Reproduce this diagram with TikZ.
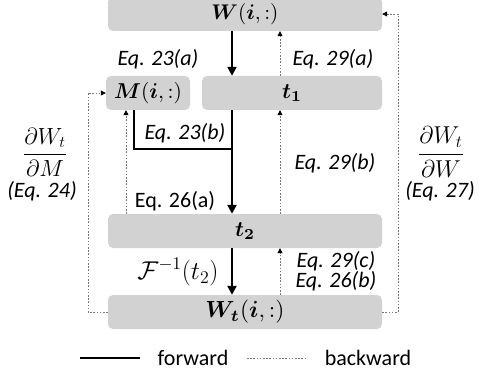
\documentclass[tikz,border=0pt]{standalone}
\usepackage{amsmath}
\usepackage{graphicx}
\usepackage[no-math]{fontspec}
\setmainfont{Carlito}
\usetikzlibrary{arrows.meta}
\definecolor{boxgray}{RGB}{210,210,210}
\definecolor{bgray}{RGB}{120,120,120}
\tikzset{
  box/.style={fill=boxgray, rounded corners=5pt, inner sep=0pt, minimum height=34pt},
  fwd/.style={line width=2.6pt, -{Triangle[length=9pt,width=9pt]}},
  fwdline/.style={line width=2.6pt},
  bwd/.style={bgray, line width=0.8pt, dash pattern=on 1.6pt off 1.6pt, -{Triangle[length=5pt,width=5pt,fill=black,color=black]}},
  bwdline/.style={bgray, line width=0.8pt, dash pattern=on 1.6pt off 1.6pt},
  lbl/.style={inner sep=0pt, font=\fontsize{22}{27}\selectfont\itshape},
  lblu/.style={inner sep=0pt, font=\fontsize{22}{27}\selectfont}
}
\begin{document}
\begin{tikzpicture}[x=1pt,y=-1pt]
\useasboundingbox (0,0) rectangle (479,377);
% boxes
\node[box, minimum width=274pt] (W) at (245,14) {\resizebox{67pt}{!}{$\boldsymbol{W}(\boldsymbol{i},:)$}};
\node[box, minimum width=84pt] (M) at (148,93) {\resizebox{68pt}{!}{$\boldsymbol{M}(\boldsymbol{i},:)$}};
\node[box, minimum width=180pt] (t1) at (292,93) {\resizebox{20pt}{!}{$\boldsymbol{t_1}$}};
\node[box, minimum width=274pt] (t2) at (245,231) {\resizebox{20pt}{!}{$\boldsymbol{t_2}$}};
\node[box, minimum width=274pt] (Wt) at (245,312) {\resizebox{79pt}{!}{$\boldsymbol{W_t}(\boldsymbol{i},:)$}};
% helper coordinates
\coordinate (fx) at (232,0);
\coordinate (bx) at (280,0);
\coordinate (mx) at (126,0);
\coordinate (mx2) at (134,0);
\coordinate (jy) at (0,149);
\coordinate (lx) at (88,0);
\coordinate (rx) at (398,0);
% forward
\draw[fwd] (fx |- W.south) -- (fx |- t1.north);
\draw[fwd] (fx |- t1.south) -- (fx |- t2.north);
\draw[fwdline, line join=miter] (mx2 |- M.south) -- (mx2 |- jy) -- (fx |- jy);
\draw[fwd] (fx |- t2.south) -- (fx |- Wt.north);
% backward
\draw[bwd] (bx |- t1.north) -- (bx |- W.south);
\draw[bwd] (bx |- t2.north) -- (bx |- t1.south);
\draw[bwd] (bx |- Wt.north) -- (bx |- t2.south);
\draw[bwd] (mx |- t2.north) -- (mx |- M.south);
\draw[bwd] (Wt.west) -| (lx |- M.west) -- (M.west);
\draw[bwd] (Wt.east) -| (rx |- W.east) -- (W.east);
% labels
\node[lbl] (l23a) at (158,59) {Eq. 23(a)};
\node[lbl] (l29a) at (333,59) {Eq. 29(a)};
\node[lbl] (l23b) at (185,133) {Eq. 23(b)};
\node[lbl] (l29b) at (335,163) {Eq. 29(b)};
\node[lblu] (l26a) at (175,201) {Eq. 26(a)};
\node[lblu] (dM) at (45,152) {\resizebox{44pt}{!}{$\dfrac{\partial W_t}{\partial M}$}};
\node[lbl] (e24) at (42,191) {(Eq. 24)};
\node[lblu] (dW) at (441,152) {\resizebox{46pt}{!}{$\dfrac{\partial W_t}{\partial W}$}};
\node[lbl] (e27) at (440,191) {(Eq. 27)};
\node[lblu] (finv) at (178,272) {\resizebox{81pt}{!}{$\mathcal{F}^{-1}(t_2)$}};
\node[lbl] (l29c) at (336,261) {Eq. 29(c)};
\node[lbl] (l26b) at (336,281) {Eq. 26(b)};
% legend
\coordinate (lg1) at (80,358);
\coordinate (lg2) at (140,358);
\coordinate (lg3) at (247,358);
\coordinate (lg4) at (306,358);
\draw[fwdline] (lg1) -- (lg2);
\node[lblu] (fwdt) at (193,358) {forward};
\draw[bwdline] (lg3) -- (lg4);
\node[lblu] (bwdt) at (368,358) {backward};
\end{tikzpicture}
\end{document}
